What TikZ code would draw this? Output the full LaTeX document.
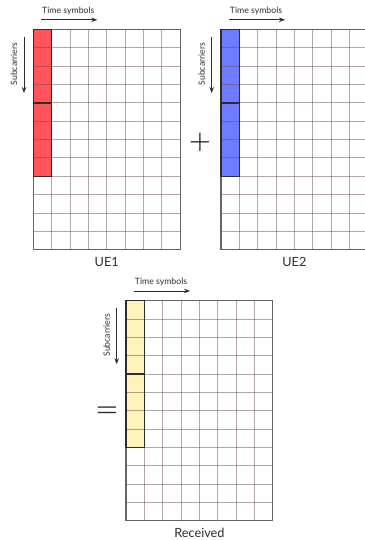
\documentclass[tikz,border=0pt]{standalone}
\usepackage{fontspec}
\setmainfont{Lato}
\usetikzlibrary{arrows.meta}
\definecolor{gridc}{RGB}{105,75,75}
\definecolor{framec}{RGB}{100,100,100}
\definecolor{uefill}{RGB}{255,85,90}
\definecolor{uetwofill}{RGB}{110,125,255}
\definecolor{rxfill}{RGB}{255,243,188}
\definecolor{inkc}{RGB}{45,45,45}
\tikzset{
  gridline/.style={draw=gridc, draw opacity=0.5, line width=0.9pt},
  frameline/.style={draw=framec, line width=1.1pt},
  blockline/.style={draw=inkc, line width=1.3pt},
  axarrow/.style={draw=inkc, line width=0.9pt, -{Stealth[length=6pt,width=4.5pt,inset=2pt]}},
  axlabel/.style={inner sep=0pt, anchor=base, text=inkc, font=\fontsize{8.7}{10}\selectfont},
  gridlabel/.style={inner sep=0pt, anchor=base, text=inkc, font=\fontsize{12.7}{14}\selectfont},
  opsign/.style={inner sep=0pt, text=inkc, font=\fontsize{27}{30}\selectfont\boldmath},
}
\def\cw{18.35}
\newcommand\resgrid[5]{% x, y, fill, name, label
  \begin{scope}[shift={(#1,#2)}]
    \fill[#3] (0,0) rectangle (\cw,8*\cw);
    \foreach \i in {1,...,7} \draw[gridline] (\i*\cw,0) -- (\i*\cw,12*\cw);
    \foreach \j in {1,...,11} \draw[gridline] (0,\j*\cw) -- (8*\cw,\j*\cw);
    \draw[frameline] (0,0) rectangle (8*\cw,12*\cw);
    \draw[blockline] (0,0) rectangle (\cw,4*\cw);
    \draw[blockline] (0,4*\cw) rectangle (\cw,8*\cw);
    \node[axlabel] (#4time) at (35,-16.3) {Time symbols};
    \coordinate (#4ta) at (8,-9.7);
    \coordinate (#4tb) at (64,-9.7);
    \draw[axarrow] (#4ta) -- (#4tb);
    \node[axlabel, rotate=90] (#4sub) at (-16.2,34.5) {Subcarriers};
    \coordinate (#4sa) at (-9.3,7.5);
    \coordinate (#4sb) at (-9.3,63.5);
    \draw[axarrow] (#4sa) -- (#4sb);
    \node[gridlabel] (#4name) at (4*\cw,12*\cw+17) {#5};
  \end{scope}
}
\begin{document}
\begin{tikzpicture}[x=1pt,y=-1pt]
  \useasboundingbox (0,0) rectangle (364,540);
  \resgrid{33.3}{29.5}{uefill}{ueone}{UE1}
  \resgrid{221}{29.5}{uetwofill}{uetwo}{UE2}
  \resgrid{126}{300.7}{rxfill}{rx}{Received}
  \node[opsign] (plus) at (200,142.5) {$+$};
  \node[opsign] (eq) at (107,412) {$=$};
\end{tikzpicture}
\end{document}
